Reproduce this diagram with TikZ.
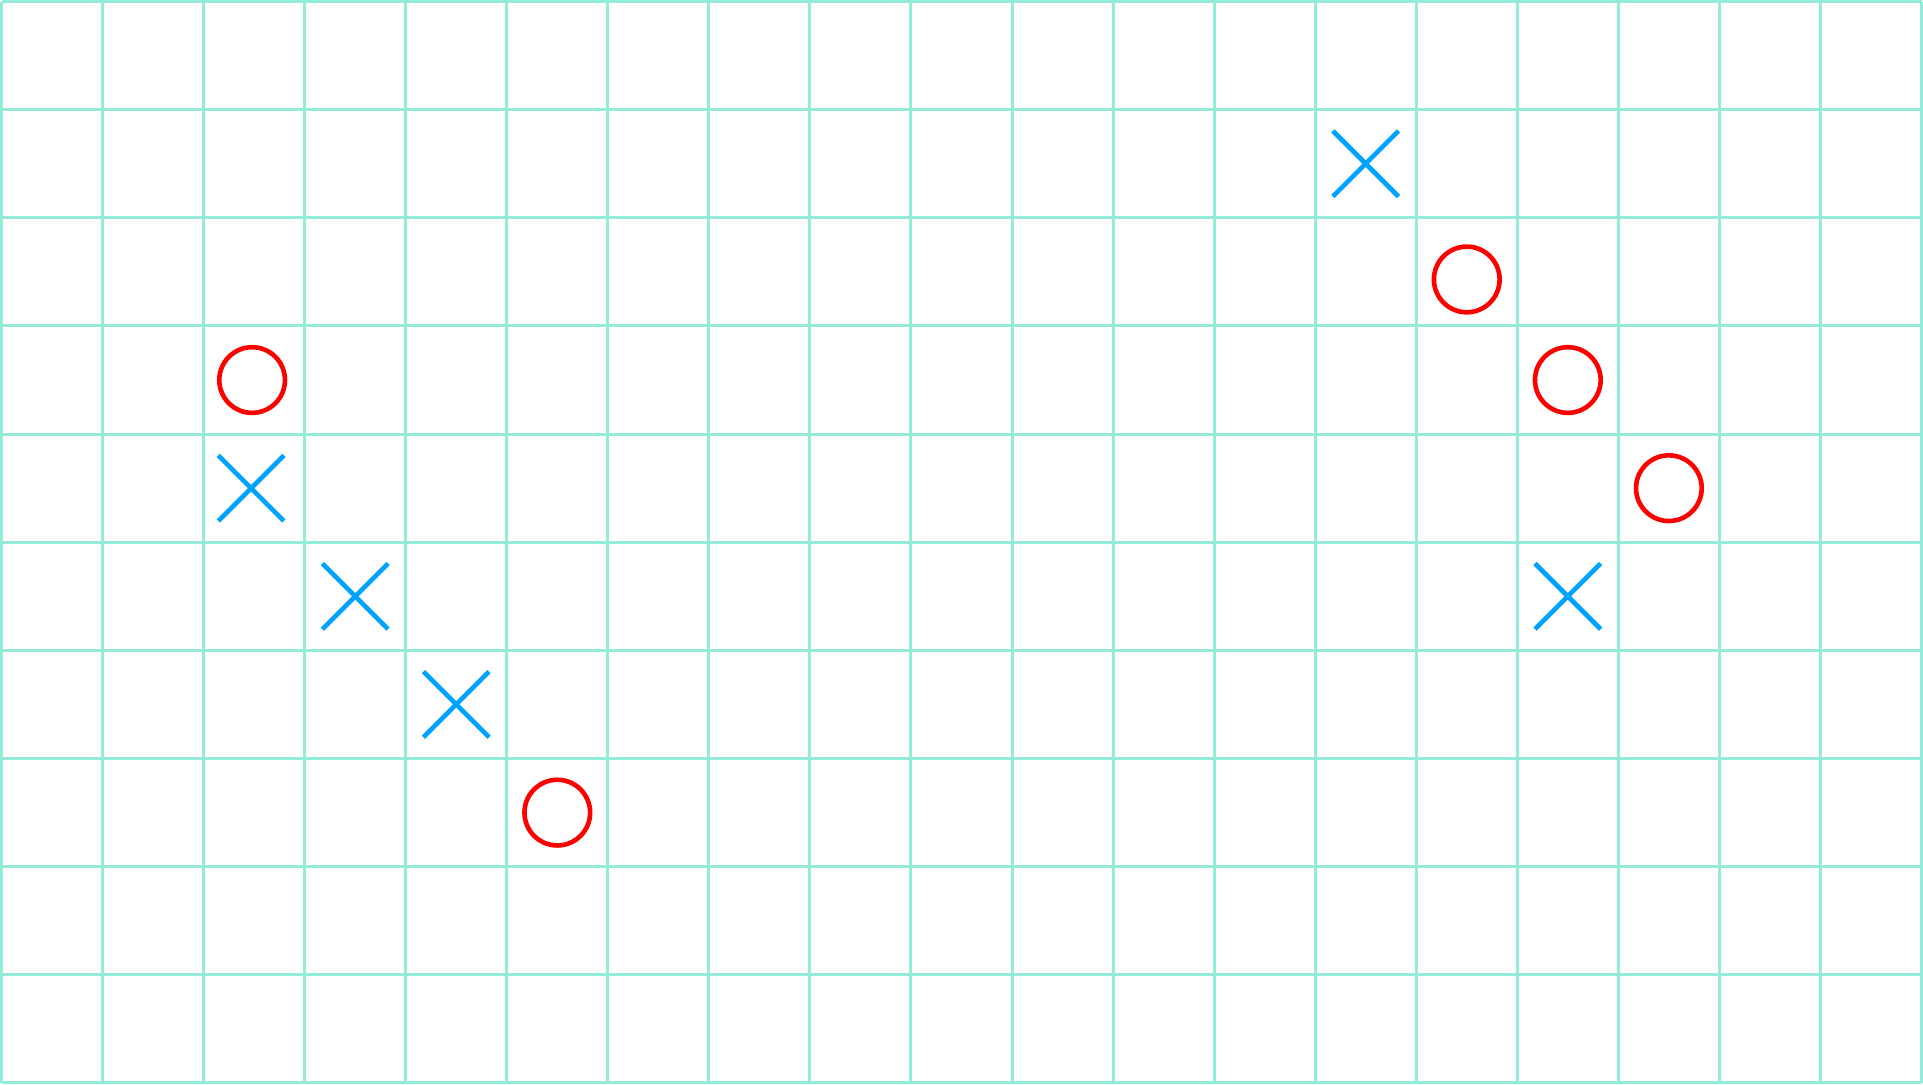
\documentclass[tikz,border=0pt]{standalone}
\usepackage{xcolor}
\usetikzlibrary{shapes.misc,calc}
\definecolor{gridteal}{HTML}{93EBDA}
\definecolor{noughtred}{HTML}{FF0000}
\definecolor{crossblue}{HTML}{00A2FF}

\begin{document}
\begin{tikzpicture}[x=1cm, y=1.0702cm]
  \tikzstyle{gridline}=[draw=gridteal, line width=0.85pt]
  \tikzstyle{nought}=[draw=noughtred, circle, line width=1.3pt, inner sep=0pt, minimum size=0.65cm]
  \tikzstyle{crossmark}=[draw=crossblue, cross out, line width=1.3pt, inner sep=0pt, outer sep=0pt, minimum size=0.65cm]
  \useasboundingbox (-0.015cm,-0.015cm) rectangle ($(19,10)+(0.015cm,0.015cm)$);
  % board
  \foreach \col in {0,...,19} \draw[gridline] (\col,0) -- (\col,10);
  \foreach \row in {0,...,10} \draw[gridline] (0,\row) -- (19,\row);

  % left group
  \node[nought] (oleft) at (2.48,6.5) {};
  \node[crossmark] (xleftA) at (2.47,5.5) {};
  \node[crossmark] (xleftB) at (3.5,4.5) {};
  \node[crossmark] (xleftC) at (4.5,3.5) {};
  \node[nought] (oleftlow) at (5.5,2.5) {};

  % right group
  \node[crossmark] (xtop) at (13.5,8.5) {};
  \node[nought] (orightA) at (14.5,7.43) {};
  \node[nought] (orightB) at (15.5,6.5) {};
  \node[nought] (orightC) at (16.5,5.5) {};
  \node[crossmark] (xright) at (15.5,4.5) {};
\end{tikzpicture}
\end{document}
